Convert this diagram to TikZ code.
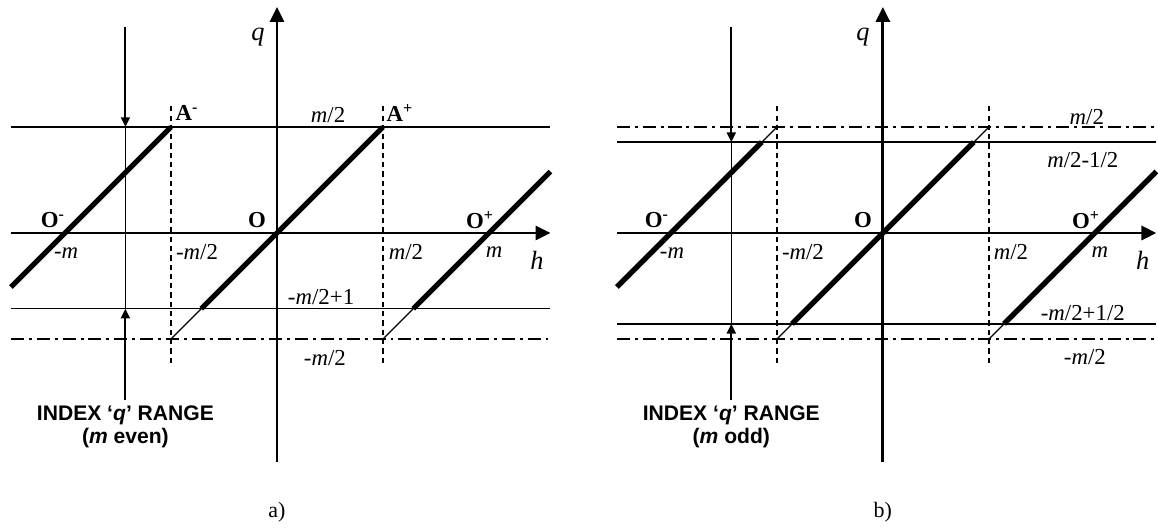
\documentclass[tikz,border=0pt]{standalone}
\usepackage{fontspec}
\setmainfont{Liberation Serif}
\setsansfont{Liberation Sans}
\usepackage{tikz}
\usetikzlibrary{arrows.meta,positioning}
\tikzset{
  axisline/.style={line width=1.7pt,-{Triangle[length=8.5pt,width=8pt]}},
  levelline/.style={line width=0.9pt},
  limitline/.style={line width=0.9pt,dash pattern=on 7.4pt off 2.8pt on 1.7pt off 2.8pt},
  borderline/.style={line width=0.75pt,dash pattern=on 3pt off 2.3pt},
  folded/.style={line width=3pt},
  foldthin/.style={line width=0.7pt},
  rangewire/.style={line width=0.9pt},
  rangearrow/.style={line width=1.2pt,-{Triangle[length=5.5pt,width=5pt]}},
  lab/.style={font=\fontsize{13}{15}\selectfont,inner sep=1pt},
  axlab/.style={font=\fontsize{15}{17}\selectfont\itshape,inner sep=1pt},
  ptlab/.style={font=\fontsize{13}{15}\selectfont\bfseries,inner sep=1pt},
  rangelab/.style={font=\sffamily\bfseries\fontsize{12}{13.2}\selectfont,align=center,inner sep=1pt},
  caption/.style={font=\fontsize{12.5}{15}\selectfont,inner sep=1pt}
}

\begin{document}
\begin{tikzpicture}[x={(4.24cm,0cm)},y={(0cm,4.24cm)}]
  \useasboundingbox (-1.3066,-1.3915) rectangle (4.1557,1.0991);
  % a) m even
  \coordinate (aAm) at (-.5,.5);
  \coordinate (aAp) at (.5,.5);
  \coordinate (aBm) at (-.5,-.5);
  \coordinate (aBp) at (.5,-.5);
  \coordinate (aCm) at (-.357,-.357);
  \coordinate (aCp) at (.643,-.357);
  \coordinate (aL) at (-1.255,-.255);
  \coordinate (aR) at (1.29,.29);
  \draw[levelline] (-1.255,.5) -- (1.29,.5) (-1.255,-.357) -- (1.29,-.357);
  \draw[limitline] (-1.255,-.5) -- (1.29,-.5);
  \draw[borderline] (-.5,-.613) -- (-.5,.613) (.5,-.613) -- (.5,.613);
  \draw[foldthin] (aBm) -- (aCm) (aBp) -- (aCp);
  \draw[folded] (aL) -- (aAm) (aCm) -- (aAp) (aCp) -- (aR);
  \draw[axisline] (-1.255,0) -- (1.29,0);
  \draw[axisline] (0,-1.08) -- (0,1.066);
  \draw[rangewire] (-.715,.5) -- (-.715,-.357);
  \draw[rangearrow] (-.715,.972) -- (-.715,.5);
  \draw[rangearrow] (-.715,-.788) -- (-.715,-.357);
  \node[axlab] (aq) at (-.09,.925) {q};
  \node[axlab] (ah) at (1.226,-.127) {h};
  \node[ptlab] (aAmL) at (-.425,.566) {A\textsuperscript{-}};
  \node[ptlab] (aApL) at (.58,.566) {A\textsuperscript{+}};
  \node[ptlab] (aOm) at (-1.057,.061) {O\textsuperscript{-}};
  \node[ptlab] (aO) at (-.094,.061) {O};
  \node[ptlab] (aOp) at (.958,.061) {O\textsuperscript{+}};
  \node[lab] (atop) at (.241,.557) {\textit{m}/2};
  \node[lab] (amm) at (-.995,-.094) {-\textit{m}};
  \node[lab] (amh) at (-.377,-.09) {-\textit{m}/2};
  \node[lab] (aph) at (.608,-.09) {\textit{m}/2};
  \node[lab] (apm) at (1.024,-.09) {\textit{m}};
  \node[lab] (alow) at (.208,-.302) {-\textit{m}/2+1};
  \node[lab] (abot) at (.226,-.59) {-\textit{m}/2};
  \node[rangelab] (arange) at (-.715,-.915) {INDEX ‘\textit{q}’ RANGE\\(\textit{m} even)};
  \node[caption] (acap) at (0,-1.316) {a)};
  % b) m odd
  \begin{scope}[shift={(2.858,0)}]
  \coordinate (bAm) at (-.5,.5);
  \coordinate (bAp) at (.5,.5);
  \coordinate (bBm) at (-.5,-.5);
  \coordinate (bBp) at (.5,-.5);
  \coordinate (bDm) at (-.5714,.4286);
  \coordinate (bDp) at (.4286,.4286);
  \coordinate (bCm) at (-.4286,-.4286);
  \coordinate (bCp) at (.5714,-.4286);
  \coordinate (bL) at (-1.255,-.255);
  \coordinate (bR) at (1.29,.29);
  \draw[levelline] (-1.255,.4286) -- (1.29,.4286) (-1.255,-.4286) -- (1.29,-.4286);
  \draw[limitline] (-1.255,.5) -- (1.29,.5) (-1.255,-.5) -- (1.29,-.5);
  \draw[borderline] (-.5,-.613) -- (-.5,.613) (.5,-.613) -- (.5,.613);
  \draw[foldthin] (bBm) -- (bCm) (bBp) -- (bCp) (bDm) -- (bAm) (bDp) -- (bAp);
  \draw[folded] (bL) -- (bDm) (bCm) -- (bDp) (bCp) -- (bR);
  \draw[axisline] (-1.255,0) -- (1.29,0);
  \draw[axisline] (0,-1.08) -- (0,1.066);
  \draw[rangewire] (-.715,.4286) -- (-.715,-.4286);
  \draw[rangearrow] (-.715,.972) -- (-.715,.4286);
  \draw[rangearrow] (-.715,-.788) -- (-.715,-.4286);
  \node[axlab] (bq) at (-.094,.925) {q};
  \node[axlab] (bh) at (1.226,-.127) {h};
  \node[ptlab] (bOm) at (-1.066,.061) {O\textsuperscript{-}};
  \node[ptlab] (bO) at (-.094,.061) {O};
  \node[ptlab] (bOp) at (.958,.061) {O\textsuperscript{+}};
  \node[lab] (btop) at (.962,.547) {\textit{m}/2};
  \node[lab] (bup) at (.943,.344) {\textit{m}/2-1/2};
  \node[lab] (bmm) at (-.995,-.094) {-\textit{m}};
  \node[lab] (bmh) at (-.377,-.09) {-\textit{m}/2};
  \node[lab] (bph) at (.604,-.09) {\textit{m}/2};
  \node[lab] (bpm) at (1.024,-.09) {\textit{m}};
  \node[lab] (blow) at (.943,-.377) {-\textit{m}/2+1/2};
  \node[lab] (bbot) at (.953,-.585) {-\textit{m}/2};
  \node[rangelab] (brange) at (-.715,-.915) {INDEX ‘\textit{q}’ RANGE\\(\textit{m} odd)};
  \node[caption] (bcap) at (0,-1.316) {b)};
  \end{scope}
\end{tikzpicture}
\end{document}
